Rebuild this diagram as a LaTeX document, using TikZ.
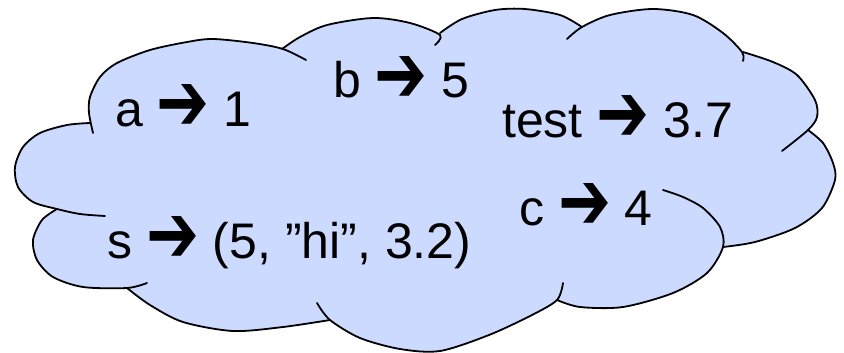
\documentclass[tikz,border=0pt]{standalone}
\usepackage{fontspec}
\usepackage{graphicx}
\setmainfont{Liberation Sans}
\newfontfamily\arrowfont{DejaVu Sans}
\definecolor{cloudfill}{RGB}{204,218,255}
\newcommand{\arr}{\raisebox{\dimexpr\depth-4.5pt\relax}{\resizebox*{53pt}{46pt}{\arrowfont ➔}}}
\begin{document}
\begin{tikzpicture}[x=1pt,y=-1pt,
  lobe/.style={draw=black, line width=1.8pt, line cap=round},
  lbl/.style={anchor=base west, inner sep=0pt, font=\fontsize{50}{60}\selectfont}]
\useasboundingbox (0,0) rectangle (844,353);
% fill
\fill[cloudfill] (90,123)
 -- plot[smooth] coordinates {(90,123) (67,125) (40,133) (23,147) (15,167) (18,187) (33,202) (57,209)}
 -- plot[smooth] coordinates {(57,209) (42,220) (33,240) (37,260) (53,277) (83,287) (127,288)}
 -- plot[smooth] coordinates {(127,288) (150,305) (183,322) (233,331) (283,327) (330,320)}
 -- plot[smooth] coordinates {(330,320) (360,338) (400,349) (440,351) (489,335) (532,315) (557,300)}
 -- plot[smooth] coordinates {(557,300) (580,307) (623,307) (673,293) (707,273) (723,247)}
 -- plot[smooth] coordinates {(723,247) (755,242) (795,228) (822,208) (835,180) (833,163) (823,143) (808,130)}
 -- plot[smooth] coordinates {(808,130) (817,117) (815,100) (797,75) (773,62) (743,52)}
 -- plot[smooth] coordinates {(742,52) (723,33) (693,15) (653,9) (610,15) (582,27)}
 -- plot[smooth] coordinates {(582,27) (560,15) (525,9) (495,10) (462,19) (440,33)}
 -- plot[smooth] coordinates {(440,35) (410,23) (373,18) (327,25) (300,37) (282,49)}
 -- plot[smooth] coordinates {(283,49) (253,43) (213,39) (187,42) (150,50) (117,63) (100,77) (90,97) (89,113) (90,123)}
 -- cycle;
% outlines
\draw[lobe] plot[smooth] coordinates {(90,123) (67,125) (40,133) (23,147) (15,167) (18,187) (33,202) (57,209) (80,214) (105,216)};
\draw[lobe] plot[smooth] coordinates {(57,209) (42,220) (33,240) (37,260) (53,277) (83,287) (127,288) (147,283)};
\draw[lobe] plot[smooth] coordinates {(127,288) (150,305) (183,322) (233,331) (283,327) (330,320)};
\draw[lobe] plot[smooth] coordinates {(317,303) (330,320) (360,338) (400,349) (440,351) (489,335) (532,315) (557,300) (563,283)};
\draw[lobe] plot[smooth] coordinates {(557,300) (580,307) (623,307) (673,293) (707,273) (723,247) (720,227) (703,208) (683,197) (663,190)};
\draw[lobe] plot[smooth] coordinates {(723,247) (755,242) (795,228) (822,208) (835,180) (833,163) (823,143) (808,130)};
\draw[lobe] plot[smooth] coordinates {(743,52) (773,62) (797,75) (815,100) (817,117) (808,130) (782,151)};
\draw[lobe] plot[smooth] coordinates {(567,39) (582,27) (610,15) (653,9) (693,15) (723,33) (742,52) (743,61)};
\draw[lobe] plot[smooth] coordinates {(440,33) (462,19) (495,10) (525,9) (560,15) (582,27)};
\draw[lobe] plot[smooth] coordinates {(282,49) (300,37) (327,25) (373,18) (410,23) (440,35) (435,45)};
\draw[lobe] plot[smooth] coordinates {(93,133) (89,113) (90,97) (100,77) (117,63) (150,50) (187,42) (213,39) (253,43) (283,49) (306,60)};
% labels
\node[lbl] (a) at (115,126) {a \arr{} 1};
\node[lbl] (b) at (333,98) {b \arr{} 5};
\node[lbl] (t) at (502,137) {test \arr{} 3.7};
\node[lbl] (s) at (107,258) {s \arr{} (5, ”hi”, 3.2)};
\node[lbl] (c) at (519,225) {c \arr{} 4};
\end{tikzpicture}
\end{document}
